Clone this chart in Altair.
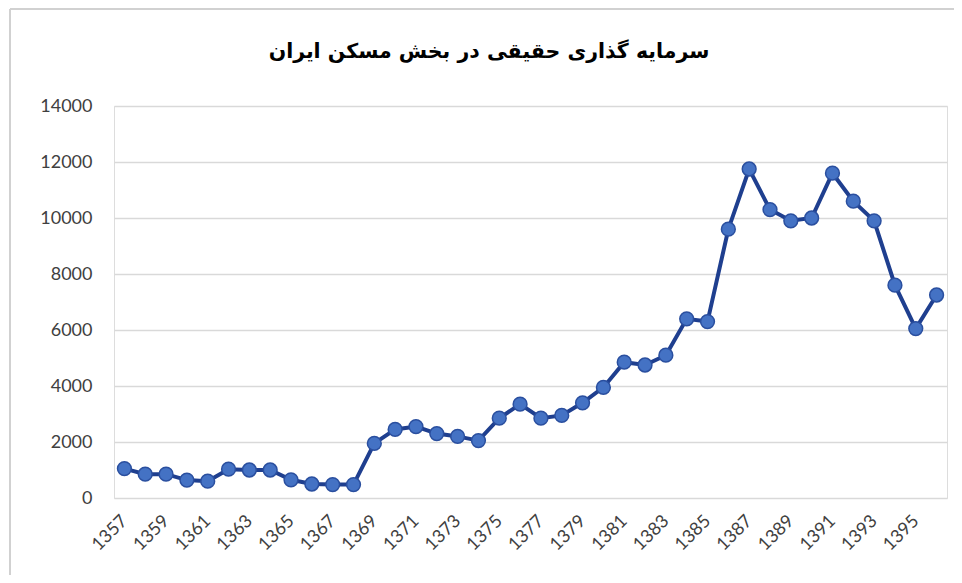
import altair as alt
import pandas as pd

years = list(range(1357, 1397))
values = [1050, 850, 850, 640, 600, 1030, 1000, 1000, 650, 500,
          480, 480, 1950, 2450, 2550, 2300, 2200, 2050, 2850, 3350,
          2850, 2950, 3400, 3950, 4850, 4750, 5100, 6400, 6300, 9600,
          11750, 10300, 9900, 10000, 11600, 10600, 9900, 7600, 6050, 7250]
y_ticks = [0, 2000, 4000, 6000, 8000, 10000, 12000, 14000]
title = "سرمایه گذاری حقیقی در بخش مسکن ایران"

df = pd.DataFrame({"year": years, "value": values})
tdf = pd.DataFrame({"t": [title]})

W, H = 833, 392

x = alt.X("year:O", scale=alt.Scale(type="point", padding=0.5),
          axis=alt.Axis(title=None, labelAngle=-45, labelAlign="right", labelBaseline="middle",
                        labelExpr="datum.value % 2 == 1 ? datum.label : ''",
                        labelOverlap=False, ticks=False, domain=False, grid=False,
                        labelPadding=20, labelFontSize=18, labelColor="#404040",
                        labelFont="Lato"))
y = alt.Y("value:Q", scale=alt.Scale(domain=[0, 14000], nice=False),
          axis=alt.Axis(title=None, values=y_ticks, format="d", ticks=False, domain=False,
                        gridColor="#D9D9D9", gridWidth=1.3, labelPadding=22,
                        labelFontSize=18, labelColor="#404040", labelFont="Lato"))

line = alt.Chart(df).mark_line(color="#1F3F8F", strokeWidth=4).encode(x=x, y=y)
pts = alt.Chart(df).mark_point(filled=True, size=190, fill="#4472C4", stroke="#2A4F9F",
                               strokeWidth=1.5, opacity=1).encode(x=x, y=y)

border = alt.Chart(df).mark_rule(color="#D0D0D0", strokeWidth=1.5).encode(
    x=alt.value(-104), x2=alt.value(-104), y=alt.value(-97), y2=alt.value(H + 90))
border_top = alt.Chart(df).mark_rule(color="#D0D0D0", strokeWidth=1.5).encode(
    x=alt.value(-104), x2=alt.value(W + 20), y=alt.value(-97), y2=alt.value(-97))

ttl = alt.Chart(tdf).mark_text(font="DejaVu Sans", fontSize=20.5, fontWeight="bold",
                               color="#000000", align="center", baseline="middle").encode(
    text="t:N", x=alt.value(375), y=alt.value(-54))

chart = alt.layer(border, border_top, line, pts, ttl).properties(
    width=W, height=H,
    autosize=alt.AutoSizeParams(type="none"),
    padding={"left": 106, "top": 98, "right": 7, "bottom": 77},
).configure_view(stroke=None).configure(background="white")

chart.save("out.html", embed_options={"renderer": "svg", "actions": False})
